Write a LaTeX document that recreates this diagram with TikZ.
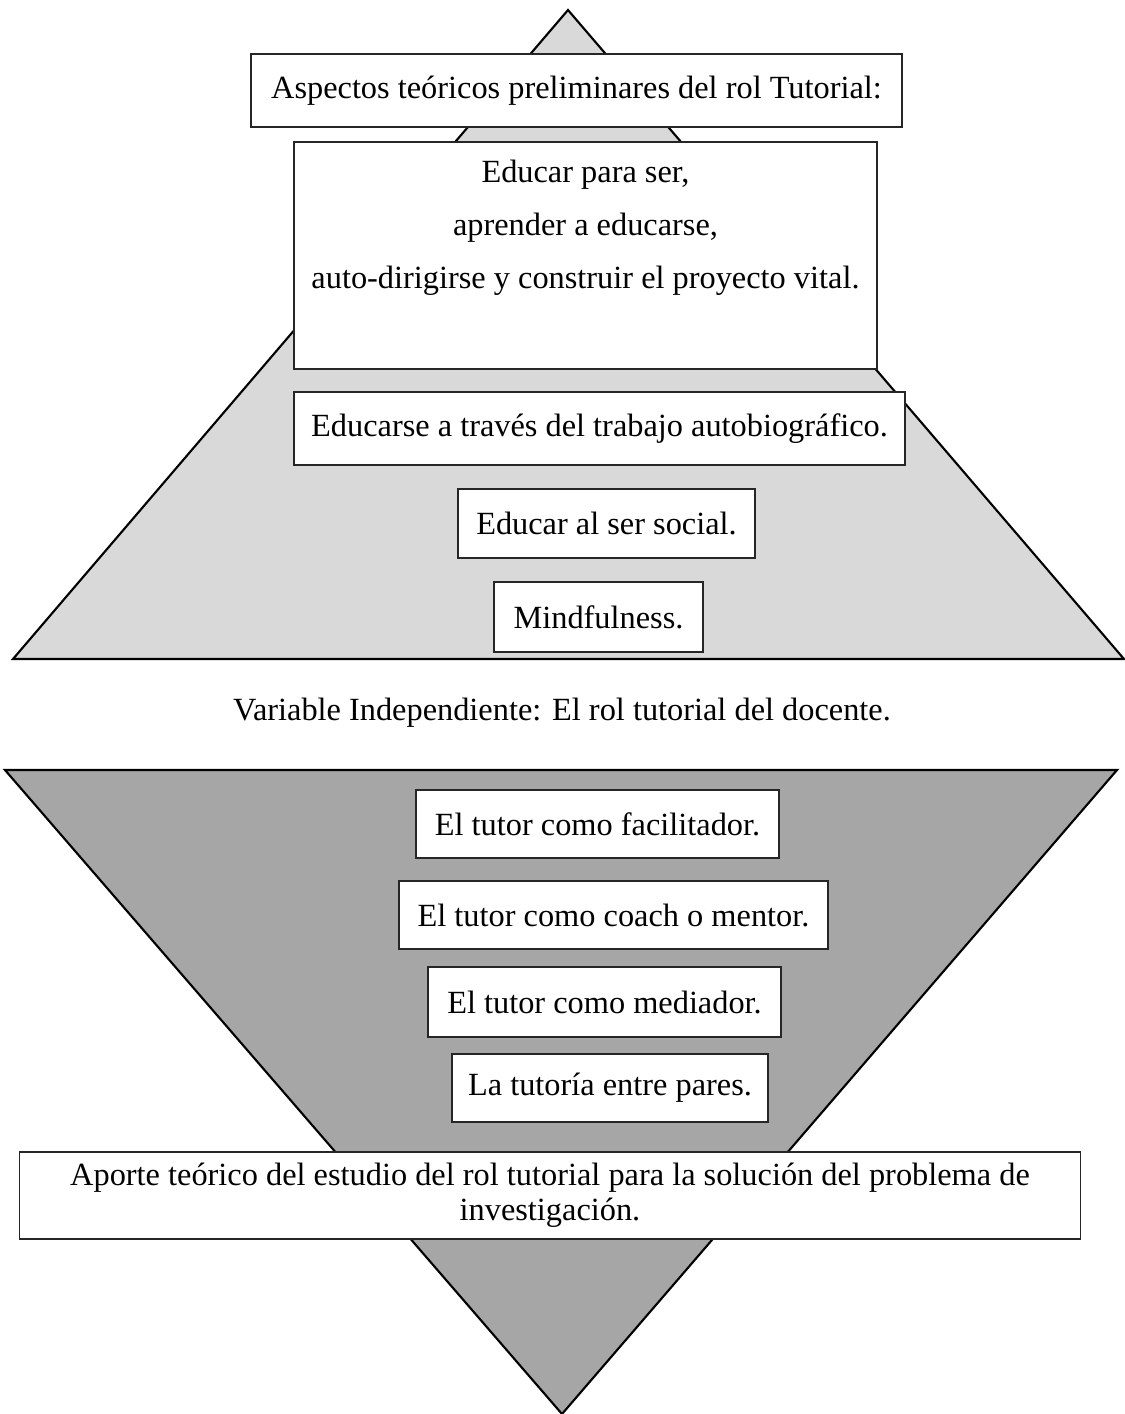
\documentclass[tikz,border=0pt]{standalone}
\usepackage{fontspec}
\setmainfont{Liberation Serif}
\usepackage{tikz}
\usetikzlibrary{positioning,calc}
\definecolor{toplight}{RGB}{217,217,217}
\definecolor{lowdark}{RGB}{166,166,166}
\tikzset{
	every node/.style={font=\fontsize{9.2}{10.5}\selectfont}
}
\tikzset{
	x=0.01cm,y=-0.01cm,
	tri/.style={draw,line width=0.6pt,line join=miter},
	box/.style={rectangle,draw=black!85,fill=white,line width=0.45pt,align=center,inner sep=0pt}
}
\begin{document}
\begin{tikzpicture}
      \useasboundingbox (0,0) rectangle (1125,1414);
      % upper pyramid
      \coordinate (topA) at (568,10);
      \coordinate (topL) at (13,659);
      \coordinate (topR) at (1124,659);
      \draw[tri,fill=toplight] (topA) -- (topL) -- (topR) -- cycle;
      % lower funnel
      \coordinate (lowL) at (5,770);
      \coordinate (lowR) at (1117,770);
      \coordinate (lowA) at (562,1414);
      \draw[tri,fill=lowdark] (lowL) -- (lowR) -- (lowA) -- cycle;

      \node[box,minimum width=6.51cm,minimum height=0.73cm] (aspectos) at (576.5,90.5) {Aspectos teóricos preliminares del rol Tutorial:};
      \node[box,minimum width=5.83cm,minimum height=2.27cm,font=\fontsize{9.2}{15}\selectfont,text depth=0.1cm] (educar) at (585.5,255.5) {Educar para ser,\\ aprender a educarse,\\ auto-dirigirse y construir el proyecto vital.\\ \mbox{}};
      \node[box,minimum width=6.11cm,minimum height=0.73cm] (autobio) at (599.5,428.5) {Educarse a través del trabajo autobiográfico.};
      \node[box,minimum width=2.97cm,minimum height=0.69cm] (social) at (606.5,523.5) {Educar al ser social.};
      \node[box,minimum width=2.09cm,minimum height=0.70cm] (mind) at (598.5,617) {Mindfulness.};

      \node (variable) at (562,713) {Variable Independiente: El rol tutorial del docente.};

      \node[box,minimum width=3.63cm,minimum height=0.68cm] (facilitador) at (597.5,824) {El tutor como facilitador.};
      \node[box,minimum width=4.29cm,minimum height=0.68cm] (coach) at (613.5,915) {El tutor como coach o mentor.};
      \node[box,minimum width=3.53cm,minimum height=0.70cm] (mediador) at (604.5,1002) {El tutor como mediador.};
      \node[box,minimum width=3.16cm,minimum height=0.68cm] (pares) at (610,1088) {La tutoría entre pares.};
      \node[box,minimum width=10.6cm,minimum height=0.87cm,font=\fontsize{9.2}{10}\selectfont] (aporte) at (550,1195.5) {Aporte teórico del estudio del rol tutorial para la solución del problema de\\ investigación.};
\end{tikzpicture}
\end{document}
